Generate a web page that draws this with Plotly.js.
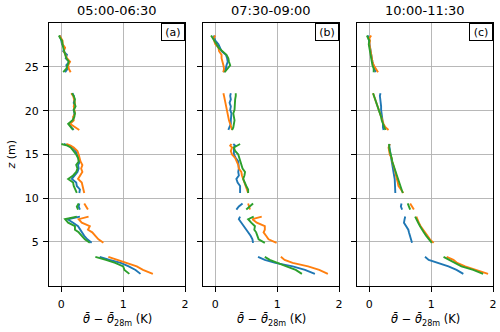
<!DOCTYPE html>
<html>
<head>
<meta charset="utf-8">
<script src="https://cdn.plot.ly/plotly-3.0.1.min.js"></script>
<style>
  body { margin: 0; background: #fff; }
  #plot { width: 500px; height: 332px; }
</style>
</head>
<body>
<div id="plot"></div>
<script>
// heights (m); null = gap between measurement groups
var z = [1.35, 1.8, 2.2, 2.6, 2.95, 3.3, null,
         4.9, 5.3, 5.7, 6.1, 6.4, 6.8, 7.2, 7.6, 7.9, null,
         8.7, 9.05, 9.4, null,
         10.6, 11.0, 11.4, 11.8, 12.2, 12.6, 13.0, 13.4, 13.8, 14.2, 14.6, 15.0, 15.4, 15.8, 16.0, 16.2, null,
         17.8, 18.1, 18.5, 18.9, 19.3, 19.7, 20.1, 20.5, 20.9, 21.3, 21.7, 22.0, null,
         24.4, 24.8, 25.2, 25.6, 26.0, 26.4, 26.8, 27.2, 27.6, 28.0, 28.3, 28.6];

var periods = ['05:00-06:30', '07:30-09:00', '10:00-11:30'];
var panelLabels = ['(a)', '(b)', '(c)'];

// panel (a)
var aBlue = [1.28, 1.2, 1.09, 0.96, 0.78, 0.62, null,
  0.49, 0.42, 0.37, 0.33, 0.3, 0.27, 0.19, 0.1, 0.3, null,
  0.3, 0.28, 0.29, null,
  0.29, 0.3, 0.25, 0.24, 0.17, 0.22, 0.26, 0.28, 0.27, 0.3, 0.28, 0.25, 0.23, 0.18, 0.1, 0.04, null,
  0.2, 0.16, 0.13, 0.19, 0.2, 0.21, 0.2, 0.22, 0.2, 0.21, 0.2, 0.18, null,
  0.06, 0.1, 0.08, 0.13, 0.07, 0.09, 0.03, 0.05, 0.01, 0.0, -0.01, -0.03];
var aOrange = [1.48, 1.32, 1.22, 1.05, 0.89, 0.76, null,
  0.68, 0.6, 0.55, 0.5, 0.43, 0.46, 0.33, 0.28, 0.44, null,
  0.43, 0.4, 0.37, null,
  0.37, 0.36, 0.35, 0.33, 0.27, 0.3, 0.34, 0.32, 0.34, 0.31, 0.3, 0.28, 0.26, 0.2, 0.15, 0.08, null,
  0.29, 0.22, 0.14, 0.2, 0.19, 0.22, 0.21, 0.2, 0.22, 0.2, 0.19, 0.16, null,
  0.15, 0.12, 0.11, 0.14, 0.09, 0.07, 0.04, 0.06, 0.02, 0.02, 0.0, -0.03];
var aGreen = [1.1, 1.02, 1.0, 0.87, 0.72, 0.55, null,
  0.46, 0.38, 0.33, 0.28, 0.22, 0.22, 0.11, 0.06, 0.25, null,
  0.27, 0.25, 0.28, null,
  0.25, 0.22, 0.2, 0.19, 0.11, 0.19, 0.24, 0.26, 0.24, 0.28, 0.27, 0.24, 0.2, 0.15, 0.1, 0.0, null,
  0.19, 0.15, 0.11, 0.18, 0.21, 0.22, 0.2, 0.23, 0.21, 0.22, 0.2, 0.17, null,
  0.03, 0.08, 0.1, 0.12, 0.08, 0.06, 0.05, 0.03, 0.02, 0.01, -0.02, -0.04];

// panel (b)
var bBlue = [1.61, 1.45, 1.25, 0.97, 0.8, 0.69, null,
  0.61, 0.6, 0.57, 0.53, 0.5, 0.47, 0.42, 0.38, 0.4, null,
  0.34, 0.38, 0.44, null,
  0.4, 0.4, 0.4, 0.36, 0.34, 0.38, 0.37, 0.38, 0.37, 0.37, 0.33, 0.3, 0.3, 0.3, 0.32, 0.29, null,
  0.21, 0.23, 0.25, 0.25, 0.25, 0.26, 0.24, 0.25, 0.23, 0.25, 0.24, 0.25, null,
  0.13, 0.17, 0.18, 0.2, 0.19, 0.17, 0.1, 0.08, 0.05, 0.0, -0.02, -0.03];
var bOrange = [1.82, 1.68, 1.5, 1.25, 1.12, 1.06, null,
  0.99, 0.86, 0.82, 0.78, 0.8, 0.8, 0.67, 0.6, 0.75, null,
  0.56, 0.54, 0.53, null,
  0.53, 0.51, 0.48, 0.46, 0.45, 0.43, 0.42, 0.38, 0.37, 0.34, 0.32, 0.27, 0.25, 0.27, 0.24, 0.26, null,
  0.27, 0.26, 0.24, 0.22, 0.21, 0.2, 0.19, 0.18, 0.16, 0.15, 0.14, 0.13, null,
  0.13, 0.14, 0.13, 0.11, 0.1, 0.1, 0.06, 0.05, 0.0, -0.02, -0.03, 0.0];
var bGreen = [1.4, 1.3, 1.15, 1.0, 0.88, 0.8, null,
  0.8, 0.7, 0.68, 0.66, 0.63, 0.64, 0.58, 0.53, 0.62, null,
  0.5, 0.55, 0.61, null,
  0.53, 0.53, 0.5, 0.48, 0.45, 0.47, 0.48, 0.44, 0.42, 0.4, 0.38, 0.37, 0.32, 0.3, 0.35, 0.4, null,
  0.27, 0.29, 0.3, 0.31, 0.3, 0.29, 0.31, 0.31, 0.32, 0.32, 0.33, 0.33, null,
  0.15, 0.19, 0.24, 0.22, 0.21, 0.18, 0.12, 0.05, 0.02, -0.02, -0.05, -0.07];

// panel (c)
var cBlue = [1.52, 1.41, 1.28, 1.12, 0.96, 0.9, null,
  0.69, 0.67, 0.66, 0.64, 0.63, 0.6, 0.56, 0.57, 0.58, null,
  0.53, 0.51, 0.52, null,
  0.42, 0.42, 0.42, 0.42, 0.41, 0.4, 0.39, 0.38, 0.37, 0.36, 0.35, 0.34, 0.33, 0.32, 0.32, 0.33, null,
  0.23, 0.22, 0.22, 0.21, 0.2, 0.2, 0.19, 0.19, 0.18, 0.18, 0.17, 0.18, null,
  0.1, 0.08, 0.07, 0.05, 0.04, 0.03, 0.02, 0.01, 0.0, 0.0, -0.01, -0.02];
var cOrange = [1.92, 1.73, 1.55, 1.42, 1.36, 1.25, null,
  1.04, 0.98, 0.94, 0.9, 0.86, 0.83, 0.8, 0.77, 0.76, null,
  0.72, 0.69, 0.66, null,
  0.55, 0.51, 0.47, 0.46, 0.44, 0.43, 0.42, 0.4, 0.38, 0.37, 0.36, 0.33, 0.32, 0.31, 0.32, 0.33, null,
  0.31, 0.26, 0.23, 0.21, 0.19, 0.17, 0.15, 0.13, 0.11, 0.09, 0.07, 0.06, null,
  0.14, 0.1, 0.07, 0.05, 0.04, 0.03, 0.02, 0.01, 0.0, 0.01, 0.0, 0.03];
var cGreen = [1.84, 1.68, 1.49, 1.38, 1.3, 1.2, null,
  1.01, 0.96, 0.92, 0.88, 0.85, 0.82, 0.79, 0.76, 0.74, null,
  0.66, 0.64, 0.62, null,
  0.54, 0.52, 0.5, 0.48, 0.46, 0.44, 0.42, 0.41, 0.39, 0.37, 0.36, 0.34, 0.33, 0.32, 0.32, 0.32, null,
  0.26, 0.24, 0.22, 0.2, 0.19, 0.17, 0.15, 0.13, 0.11, 0.09, 0.07, 0.06, null,
  0.07, 0.07, 0.05, 0.04, 0.03, 0.02, 0.01, 0.0, -0.01, 0.0, -0.02, -0.04];

var panels = [[aBlue, aOrange, aGreen], [bBlue, bOrange, bGreen], [cBlue, cOrange, cGreen]];
var colors = ['#1f77b4', '#ff7f0e', '#2ca02c'];

var font = 'DejaVu Sans, sans-serif';
var xDomains = [[0.098, 0.370], [0.406, 0.678], [0.714, 0.986]];
var yDomain = [0.1395, 0.93];

var data = [];
panels.forEach(function (series, p) {
  var sfx = p === 0 ? '' : String(p + 1);
  series.forEach(function (xs, i) {
    data.push({
      x: xs, y: z,
      xaxis: 'x' + sfx, yaxis: 'y' + sfx,
      type: 'scatter', mode: 'lines',
      line: { color: colors[i], width: 1.9 },
      connectgaps: false,
      showlegend: false,
      hoverinfo: 'skip'
    });
  });
});

var layout = {
  width: 500, height: 332,
  margin: { l: 0, r: 0, t: 0, b: 0 },
  paper_bgcolor: '#fff', plot_bgcolor: '#fff',
  font: { family: font, size: 11, color: '#000' },
  annotations: []
};

xDomains.forEach(function (dom, p) {
  var sfx = p === 0 ? '' : String(p + 1);
  layout['xaxis' + sfx] = {
    domain: dom, anchor: 'y' + sfx,
    range: [-0.2, 2], tickvals: [0, 1, 2], ticktext: ['0', '1', '2'],
    showgrid: true, gridcolor: '#b0b0b0', gridwidth: 0.9,
    zeroline: false, showline: true, mirror: true, linecolor: '#000', linewidth: 1,
    ticks: 'outside', ticklen: 5, tickwidth: 1, tickcolor: '#000',
    ticklabelstandoff: 3,
    tickfont: { family: font, size: 11 }, fixedrange: true
  };
  layout['yaxis' + sfx] = {
    domain: yDomain, anchor: 'x' + sfx,
    range: [0, 30], tickvals: [5, 10, 15, 20, 25],
    showticklabels: p === 0,
    showgrid: true, gridcolor: '#b0b0b0', gridwidth: 0.9,
    zeroline: false, showline: true, mirror: true, linecolor: '#000', linewidth: 1,
    ticks: 'outside', ticklen: 5, tickwidth: 1, tickcolor: '#000',
    ticklabelstandoff: 2,
    tickfont: { family: font, size: 11 }, fixedrange: true
  };
  var cx = (dom[0] + dom[1]) / 2;
  layout.annotations.push({
    text: periods[p], xref: 'paper', yref: 'paper', x: cx, y: 1 - 11 / 332,
    xanchor: 'center', yanchor: 'middle', showarrow: false,
    font: { family: font, size: 13 }
  });
  layout.annotations.push({
    text: panelLabels[p], xref: 'x' + sfx + ' domain', yref: 'y' + sfx + ' domain',
    x: 1, y: 1, xanchor: 'right', yanchor: 'top', showarrow: false,
    bordercolor: '#000', borderwidth: 1, borderpad: 1, bgcolor: '#fff',
    width: 20, height: 14,
    font: { family: font, size: 11 }
  });
  layout.annotations.push({
    text: '<i>\u03B8\u0304</i> \u2212 <i>\u03B8\u0304</i><sub>28m</sub> (K)',
    xref: 'paper', yref: 'paper', x: cx, y: 1 - 320 / 332,
    xanchor: 'center', yanchor: 'middle', showarrow: false,
    font: { family: font, size: 11.5 }
  });
});

layout.annotations.push({
  text: '<i>z</i> (m)', xref: 'paper', yref: 'paper',
  x: 11 / 500, y: (yDomain[0] + yDomain[1]) / 2,
  xanchor: 'center', yanchor: 'middle', textangle: -90, showarrow: false,
  font: { family: font, size: 11 }
});

Plotly.newPlot('plot', data, layout, { displayModeBar: false, staticPlot: true });
</script>
</body>
</html>
